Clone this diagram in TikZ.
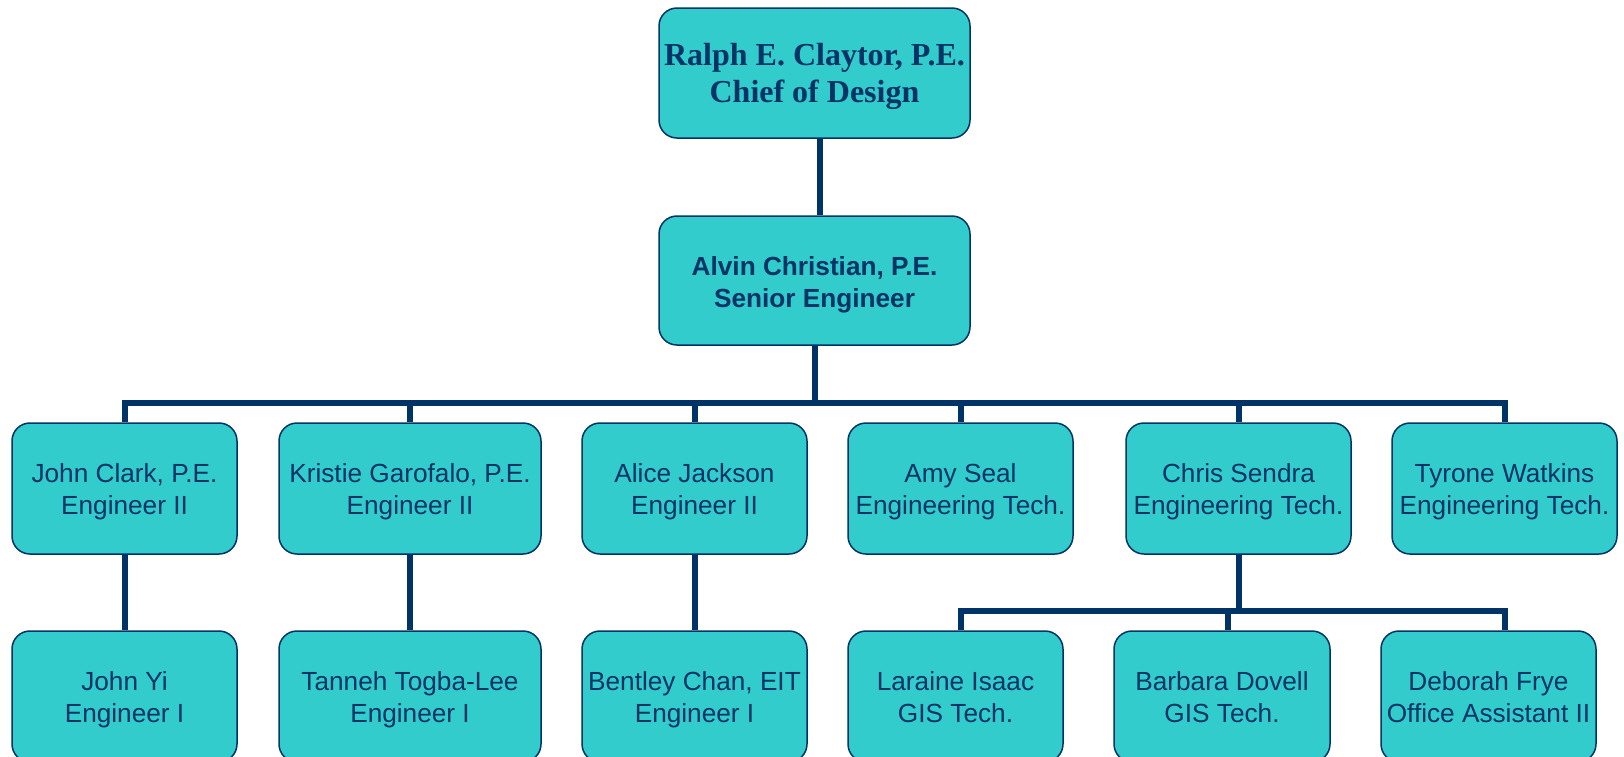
\documentclass[tikz,border=0pt]{standalone}
\usepackage{fontspec}
\setmainfont{Liberation Serif}
\newfontfamily\arialfont{Liberation Sans}
\definecolor{navy}{RGB}{0,51,102}
\definecolor{boxfill}{RGB}{51,204,204}
\newcommand\twolines[2]{\begin{tabular}[t]{@{}c@{}}#1\\#2\end{tabular}}
\begin{document}
\begin{tikzpicture}[x=0.5pt,y=-0.5pt,
  box/.style={draw=navy, line width=0.75pt, fill=boxfill, rounded corners=9pt,
    inner sep=0pt, text=navy, minimum height=65.5pt,
    minimum width=112.5pt, font=\arialfont\fontsize{13.1pt}{15.9pt}\selectfont,
    text height=10pt, text depth=16pt},
  topbox/.style={box, minimum width=155.5pt, minimum height=65pt},
  widebox/.style={minimum width=131pt},
  narrowbox/.style={minimum width=107.5pt},
  conn/.style={draw=navy, line width=3pt}]
\useasboundingbox (0,0) rectangle (1624,756);
% top levels
\node[topbox, font=\bfseries\fontsize{16pt}{18.5pt}\selectfont,
  text height=12pt, text depth=20pt] (ralph) at (814.5,73) {\twolines{Ralph E. Claytor, P.E.}{Chief of Design}};
\node[topbox, minimum height=64.5pt, font=\arialfont\bfseries\fontsize{13.1pt}{16pt}\selectfont,
  text height=10pt, text depth=15.5pt] (alvin) at (814.5,280.5) {\twolines{Alvin Christian, P.E.}{Senior Engineer}};
% second row
\node[box] (jc) at (124.5,488.5) {\twolines{John Clark, P.E.}{Engineer II}};
\node[box, widebox] (kg) at (410,488.5) {\twolines{Kristie Garofalo, P.E.}{Engineer II}};
\node[box] (aj) at (694.5,488.5) {\twolines{Alice Jackson}{Engineer II}};
\node[box] (as) at (960.5,488.5) {\twolines{Amy Seal}{Engineering Tech.}};
\node[box] (cs) at (1238.5,488.5) {\twolines{Chris Sendra}{Engineering Tech.}};
\node[box] (tw) at (1504.5,488.5) {\twolines{Tyrone Watkins}{Engineering Tech.}};
% third row
\node[box] (jy) at (124.5,696.5) {\twolines{John Yi}{Engineer I}};
\node[box, widebox] (tt) at (410,696.5) {\twolines{Tanneh Togba-Lee}{Engineer I}};
\node[box] (bc) at (694.5,696.5) {\twolines{Bentley Chan, EIT}{Engineer I}};
\node[box, narrowbox] (li) at (955.5,696.5) {\twolines{Laraine Isaac}{GIS Tech.}};
\node[box, minimum width=108pt] (bd) at (1222,696.5) {\twolines{Barbara Dovell}{GIS Tech.}};
\node[box, narrowbox] (df) at (1488.5,696.5) {\twolines{Deborah Frye}{Office Assistant II}};
% connectors
\coordinate (busy) at (0,403);
\coordinate (bustwo) at (0,611);
\draw[conn] ([xshift=2.75pt]ralph.south) -- ([xshift=2.75pt]alvin.north);
\foreach \c in {jc,kg,aj,as,cs,tw}
  \draw[conn] (alvin.south) -- (alvin.south |- busy) -| (\c.north);
\draw[conn] (jc.south) -- (jy.north);
\draw[conn] (kg.south) -- (tt.north);
\draw[conn] (aj.south) -- (bc.north);
\draw[conn] (cs.south) -- (cs.south |- bustwo) -| (li.north -| as.south);
\draw[conn] (cs.south |- bustwo) -| (df.north -| tw.south);
\draw[conn] (cs.south |- bustwo) -| ([xshift=3pt]bd.north);
\end{tikzpicture}
\end{document}
